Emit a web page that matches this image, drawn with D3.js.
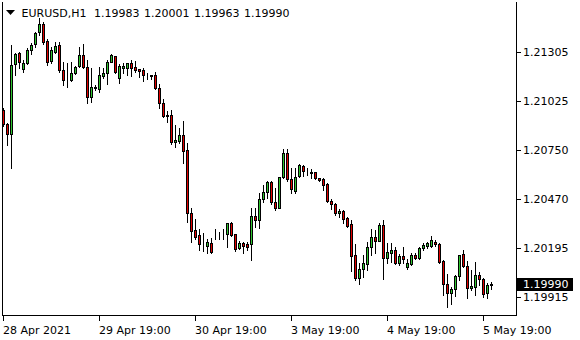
<!DOCTYPE html>
<html><head><meta charset="utf-8">
<script src="https://cdn.jsdelivr.net/npm/d3@7"></script>
<style>html,body{margin:0;padding:0;background:#fff;}svg{display:block;}</style>
</head><body>
<svg id="c" width="580" height="340"></svg>
<script>
const symbol = "EURUSD,H1";
const headerValues = ["1.19983", "1.20001", "1.19963", "1.19990"];
const priceTicks = [1.21305, 1.21025, 1.20750, 1.20470, 1.20195, 1.19915];
const priceTickLabels = ["1.21305", "1.21025", "1.20750", "1.20470", "1.20195", "1.19915"];
const lastPrice = 1.19990;
const lastPriceLabel = "1.19990";
const timeTickIndex = [0, 24, 48, 72, 96, 120];
const timeTickLabels = ["28 Apr 2021", "29 Apr 19:00", "30 Apr 19:00", "3 May 19:00", "4 May 19:00", "5 May 19:00"];

const opens = [1.20977,1.20897,1.20841,1.21235,1.21298,1.21209,1.21241,1.21316,1.21349,1.21417,
1.21464,1.21367,1.21254,1.21307,1.21345,1.21203,1.21152,1.21146,1.21184,1.21226,
1.21288,1.21218,1.21052,1.21105,1.21093,1.21171,1.21184,1.21250,1.21282,1.21156,
1.21213,1.21213,1.21241,1.21218,1.21207,1.21203,1.21170,1.21173,1.21175,1.21099,
1.21015,1.20947,1.20947,1.20794,1.20803,1.20835,1.20750,1.20392,1.20297,1.20269,
1.20218,1.20208,1.20225,1.20274,1.20269,1.20268,1.20273,1.20335,1.20273,1.20193,
1.20222,1.20218,1.20216,1.20376,1.20354,1.20473,1.20511,1.20567,1.20457,1.20423,
1.20597,1.20733,1.20584,1.20520,1.20603,1.20661,1.20628,1.20624,1.20624,1.20590,
1.20584,1.20558,1.20463,1.20444,1.20392,1.20405,1.20363,1.20329,1.20155,1.20028,
1.20074,1.20104,1.20199,1.20256,1.20236,1.20325,1.20140,1.20165,1.20184,1.20108,
1.20150,1.20089,1.20103,1.20154,1.20140,1.20193,1.20206,1.20206,1.20231,1.20218,
1.20121,1.19991,1.19938,1.19961,1.20037,1.20161,1.20093,1.19967,1.19972,1.20042,
1.20018,1.19938,1.19983];
const highs = [1.20988,1.20905,1.21345,1.21299,1.21307,1.21260,1.21329,1.21354,1.21417,1.21496,
1.21477,1.21377,1.21335,1.21363,1.21363,1.21247,1.21241,1.21247,1.21227,1.21335,
1.21350,1.21260,1.21213,1.21118,1.21220,1.21213,1.21260,1.21294,1.21285,1.21237,
1.21241,1.21244,1.21260,1.21256,1.21209,1.21213,1.21184,1.21175,1.21190,1.21122,
1.21037,1.20973,1.20977,1.20892,1.20873,1.20914,1.20791,1.20420,1.20358,1.20301,
1.20282,1.20246,1.20250,1.20301,1.20287,1.20301,1.20337,1.20344,1.20274,1.20235,
1.20231,1.20227,1.20420,1.20422,1.20505,1.20552,1.20576,1.20576,1.20533,1.20599,
1.20754,1.20754,1.20650,1.20650,1.20671,1.20665,1.20646,1.20642,1.20627,1.20594,
1.20593,1.20561,1.20473,1.20452,1.20414,1.20410,1.20369,1.20354,1.20218,1.20110,
1.20155,1.20231,1.20301,1.20297,1.20335,1.20354,1.20222,1.20225,1.20199,1.20161,
1.20199,1.20131,1.20165,1.20168,1.20202,1.20222,1.20231,1.20263,1.20240,1.20222,
1.20127,1.20048,1.19972,1.20042,1.20158,1.20184,1.20123,1.20071,1.20118,1.20061,
1.20023,1.19999,1.20001];
const lows = [1.20886,1.20778,1.20650,1.21175,1.21214,1.21193,1.21237,1.21294,1.21335,1.21401,
1.21349,1.21231,1.21241,1.21298,1.21193,1.21118,1.21105,1.21142,1.21180,1.21222,
1.21216,1.21015,1.21024,1.21090,1.21079,1.21156,1.21122,1.21247,1.21184,1.21131,
1.21188,1.21175,1.21171,1.21190,1.21165,1.21142,1.21152,1.21150,1.21096,1.20990,
1.20939,1.20910,1.20784,1.20769,1.20788,1.20678,1.20344,1.20231,1.20244,1.20184,
1.20180,1.20165,1.20168,1.20244,1.20244,1.20244,1.20199,1.20263,1.20180,1.20188,
1.20165,1.20184,1.20127,1.20316,1.20307,1.20457,1.20477,1.20444,1.20410,1.20420,
1.20590,1.20576,1.20508,1.20508,1.20595,1.20603,1.20609,1.20590,1.20584,1.20577,
1.20524,1.20457,1.20416,1.20382,1.20372,1.20335,1.20316,1.20067,1.20014,1.19991,
1.20033,1.20071,1.20158,1.20165,1.20233,1.20018,1.20108,1.20114,1.20104,1.20099,
1.20108,1.20074,1.20099,1.20131,1.20131,1.20184,1.20193,1.20199,1.20206,1.20112,
1.19929,1.19863,1.19878,1.19923,1.20014,1.20086,1.19910,1.19957,1.19929,1.19986,
1.19916,1.19910,1.19963];
const closes = [1.20897,1.20841,1.21231,1.21292,1.21250,1.21244,1.21316,1.21345,1.21411,1.21464,
1.21360,1.21250,1.21316,1.21341,1.21203,1.21146,1.21150,1.21184,1.21222,1.21288,
1.21222,1.21052,1.21105,1.21103,1.21175,1.21184,1.21250,1.21288,1.21190,1.21226,
1.21226,1.21241,1.21213,1.21203,1.21199,1.21173,1.21168,1.21171,1.21099,1.21015,
1.20944,1.20945,1.20794,1.20807,1.20835,1.20744,1.20392,1.20293,1.20259,1.20216,
1.20215,1.20231,1.20174,1.20272,1.20268,1.20270,1.20335,1.20269,1.20189,1.20225,
1.20208,1.20202,1.20376,1.20351,1.20471,1.20514,1.20571,1.20454,1.20423,1.20595,
1.20733,1.20584,1.20528,1.20599,1.20665,1.20631,1.20626,1.20619,1.20590,1.20580,
1.20552,1.20463,1.20444,1.20392,1.20405,1.20358,1.20321,1.20152,1.20028,1.20074,
1.20108,1.20199,1.20256,1.20236,1.20325,1.20141,1.20171,1.20184,1.20108,1.20150,
1.20131,1.20112,1.20154,1.20140,1.20193,1.20212,1.20222,1.20240,1.20218,1.20118,
1.19991,1.19938,1.19963,1.20037,1.20155,1.20093,1.19967,1.19980,1.20042,1.20018,
1.19933,1.19986,1.19990];

const bars = opens.map((o, i) => ({i, o, h: highs[i], l: lows[i], c: closes[i]}));

const svg = d3.select("#c");
const FONT = "DejaVu Sans";
const frame = {left: 2, top: 2, right: 516, bottom: 315};

const x = d3.scaleLinear().domain([0, bars.length - 1]).range([3.5, 3.5 + 4 * (bars.length - 1)]);
const y = d3.scaleLinear().domain([1.19813, 1.21588]).range([315.5, 2]);
const ry = v => Math.round(y(v));

svg.append("rect").attr("width", 580).attr("height", 340).attr("fill", "#fff");

// frame
const fr = svg.append("g").attr("stroke", "#000").attr("stroke-width", 1).attr("shape-rendering", "crispEdges");
fr.append("line").attr("x1", frame.left + 0.5).attr("x2", frame.left + 0.5).attr("y1", frame.top).attr("y2", frame.bottom + 1);
fr.append("line").attr("x1", frame.right + 0.5).attr("x2", frame.right + 0.5).attr("y1", frame.top).attr("y2", frame.bottom + 1);
fr.append("line").attr("x1", frame.left).attr("x2", frame.right + 1).attr("y1", frame.bottom + 0.5).attr("y2", frame.bottom + 0.5);

// candles
const cg = svg.append("g").attr("shape-rendering", "crispEdges");
const cand = cg.selectAll("g").data(bars).join("g");
cand.append("line")
  .attr("x1", d => x(d.i)).attr("x2", d => x(d.i))
  .attr("y1", d => ry(d.h)).attr("y2", d => ry(d.l) + 1)
  .attr("stroke", "#000").attr("stroke-width", 1);
cand.append("rect")
  .attr("x", d => x(d.i) - 1)
  .attr("width", 2)
  .attr("y", d => ry(Math.max(d.o, d.c)) + 0.5)
  .attr("height", d => Math.max(0, ry(Math.min(d.o, d.c)) - ry(Math.max(d.o, d.c))))
  .attr("fill", d => d.c >= d.o ? "#2fc42f" : "#e00000")
  .attr("stroke", "#000").attr("stroke-width", 1);

// right price axis
const pa = svg.append("g");
priceTicks.forEach((v, k) => {
  const yy = ry(v) + 0.5;
  pa.append("line").attr("x1", frame.right + 1).attr("x2", frame.right + 5).attr("y1", yy).attr("y2", yy)
    .attr("stroke", "#000").attr("shape-rendering", "crispEdges");
  pa.append("text").attr("x", 523).attr("y", yy).attr("dy", "0.36em")
    .attr("font-family", FONT).attr("font-size", 11).attr("fill", "#000").text(priceTickLabels[k]);
});
// last price box
const ly = y(lastPrice);
pa.append("rect").attr("x", frame.right + 1).attr("y", Math.round(ly) - 6).attr("width", 56).attr("height", 13).attr("fill", "#000");
pa.append("text").attr("x", 523).attr("y", ly).attr("dy", "0.36em")
  .attr("font-family", FONT).attr("font-size", 11).attr("fill", "#fff").text(lastPriceLabel);

// bottom time axis
const ta = svg.append("g");
timeTickIndex.forEach((ix, k) => {
  const xx = x(ix);
  ta.append("line").attr("x1", xx).attr("x2", xx).attr("y1", frame.bottom + 1).attr("y2", frame.bottom + 6)
    .attr("stroke", "#000").attr("shape-rendering", "crispEdges");
  ta.append("text").attr("x", xx - 0.5).attr("y", 334)
    .attr("font-family", FONT).attr("font-size", 11).attr("fill", "#000").text(timeTickLabels[k]);
});

// header
svg.append("path").attr("d", "M6,10 L15,10 L10.5,15 Z").attr("fill", "#000");
svg.append("text").attr("x", 21.5).attr("y", 17).attr("font-family", FONT).attr("font-size", 11).attr("fill", "#000").text(symbol);
headerValues.forEach((t, k) => {
  svg.append("text").attr("x", 94 + 50 * k).attr("y", 17).attr("font-family", FONT).attr("font-size", 11).attr("fill", "#000").text(t);
});
</script>
</body></html>
